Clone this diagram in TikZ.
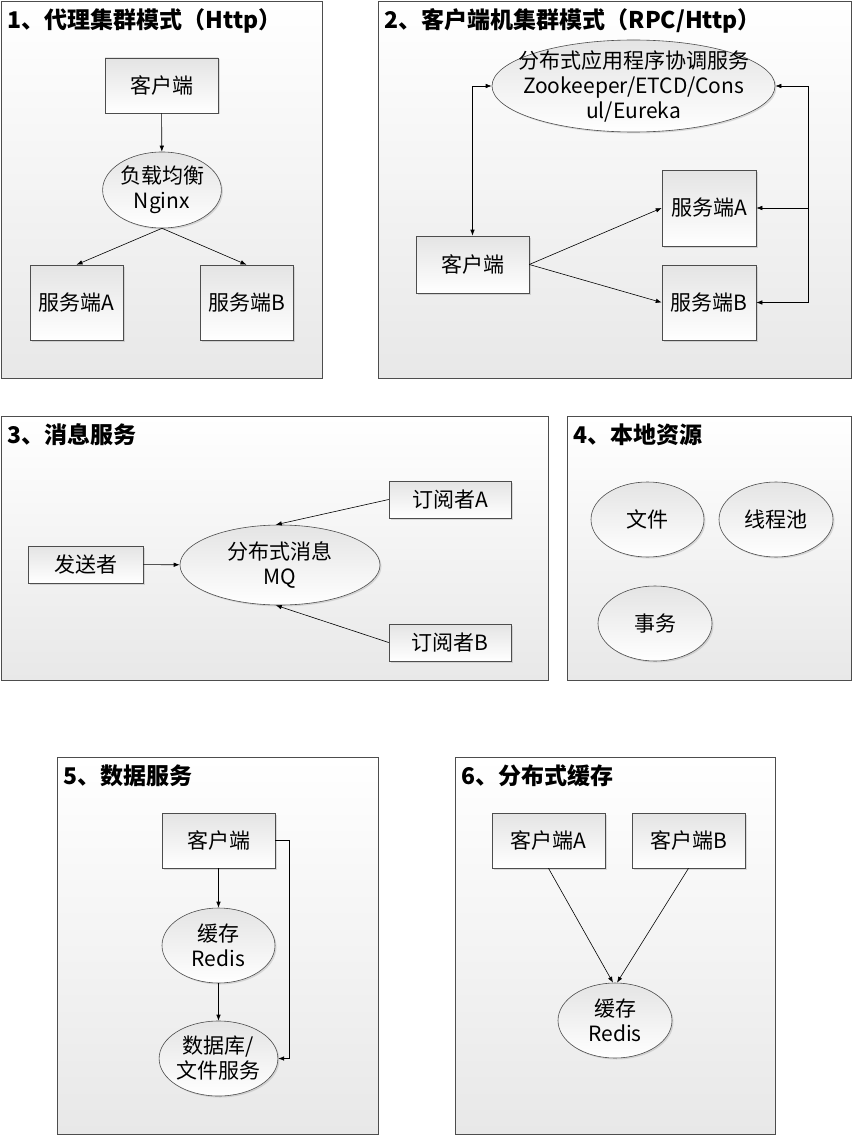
\documentclass[tikz,border=0pt]{standalone}
\usepackage{fontspec}
\setmainfont{Noto Sans CJK SC}
\usetikzlibrary{positioning, arrows.meta, shapes.geometric, shadows}
\definecolor{frame}{HTML}{4D4D4D}
\definecolor{panelshade}{HTML}{E8E8E8}
\definecolor{nodeshade}{HTML}{E4E4E4}

\begin{document}
\begin{tikzpicture}[
    x=1pt, y=-1pt,
    >={Latex[length=6pt,width=4.5pt]},
    font=\fontsize{21}{25}\selectfont,
    panel/.style={
        draw=frame, line width=0.8pt, rectangle, inner sep=0pt,
        top color=white, bottom color=panelshade,
    },
    title/.style={font=\fontsize{23}{27}\selectfont\bfseries, anchor=base west, inner sep=0pt},
    box/.style={
        draw=frame, line width=0.6pt, rectangle, inner sep=0pt, align=center,
        top color=nodeshade, bottom color=white,
        drop shadow={opacity=0.25, shadow xshift=1.5pt, shadow yshift=-1.5pt},
    },
    oval/.style={
        draw=frame, line width=0.6pt, ellipse, inner sep=0pt, align=center,
        top color=nodeshade, bottom color=white,
        drop shadow={opacity=0.25, shadow xshift=1.5pt, shadow yshift=-1.5pt},
    },
    arrow/.style={->, line width=0.6pt},
]
\useasboundingbox (0,0) rectangle (854,1137);

% ===== Panels =====
\node[panel, minimum width=321pt, minimum height=377pt] (p1) at (161.5,189.5) {};
\node[panel, minimum width=473pt, minimum height=377pt] (p2) at (614.5,189.5) {};
\node[panel, minimum width=547pt, minimum height=264pt] (p3) at (274.5,548)   {};
\node[panel, minimum width=284pt, minimum height=264pt] (p4) at (709,548)     {};
\node[panel, minimum width=321pt, minimum height=377pt] (p5) at (217.5,945.5) {};
\node[panel, minimum width=320pt, minimum height=377pt] (p6) at (615,945.5)   {};

\node[title] (t1) at ([shift={(7,28)}]p1.north west) {1、代理集群模式（Http）};
\node[title] (t2) at ([shift={(7,28)}]p2.north west) {2、客户端机集群模式（RPC/Http）};
\node[title] (t3) at ([shift={(7,28)}]p3.north west) {3、消息服务};
\node[title] (t4) at ([shift={(7,28)}]p4.north west) {4、本地资源};
\node[title] (t5) at ([shift={(7,28)}]p5.north west) {5、数据服务};
\node[title] (t6) at ([shift={(7,28)}]p6.north west) {6、分布式缓存};

% ===== 1: proxy cluster =====
\node[box, minimum width=113pt, minimum height=55pt] (cli1)  at (161.5,85.5)  {客户端};
\node[oval, minimum width=113pt, minimum height=76pt] (lb1)  at (162,190)     {负载均衡\\Nginx};
\node[box, minimum width=93pt, minimum height=75pt]  (srvA1) at (76.5,302.5)  {服务端A};
\node[box, minimum width=93pt, minimum height=75pt]  (srvB1) at (246.5,302.5) {服务端B};

\draw[arrow] (cli1) -- (lb1);
\draw[arrow] (lb1.south) -- (srvA1.north);
\draw[arrow] (lb1.south) -- (srvB1.north);

% ===== 2: client cluster =====
\node[oval, minimum width=283pt, minimum height=92pt, inner xsep=-30pt, inner ysep=-8pt] (reg2) at (633.5,86)
    {分布式应用程序协调服务\\Zookeeper/ETCD/Cons\\ul/Eureka};
\node[box, minimum width=113pt, minimum height=57pt] (cli2)  at (472.5,264.5) {客户端};
\node[box, minimum width=94pt, minimum height=76pt]  (srvA2) at (709,208)     {服务端A};
\node[box, minimum width=94pt, minimum height=75pt]  (srvB2) at (709,302.5)   {服务端B};
\coordinate (bus2) at (808,208);

\draw[arrow, <->] (reg2.west) -| (cli2.north);
\draw[arrow] (cli2.east) -- (srvA2.west);
\draw[arrow] (cli2.east) -- (srvB2.west);
\draw[arrow] (bus2 |- srvB2.east) -- (bus2 |- reg2.east) -- (reg2.east);
\draw[arrow] (bus2 |- srvA2.east) -- (srvA2.east);
\draw[arrow] (bus2 |- srvB2.east) -- (srvB2.east);

% ===== 3: message service =====
\node[box, minimum width=115pt, minimum height=37pt]  (send3) at (85.5,564.5) {发送者};
\node[oval, minimum width=200pt, minimum height=80pt] (mq3)   at (280,565)    {分布式消息\\MQ};
\node[box, minimum width=122pt, minimum height=37pt]  (subA3) at (450,499.5)  {订阅者A};
\node[box, minimum width=122pt, minimum height=37pt]  (subB3) at (450,642.5)  {订阅者B};

\draw[arrow] (send3) -- (mq3);
\draw[arrow] (subA3.west) -- (mq3.96);
\draw[arrow] (subB3.west) -- (mq3.264);

% ===== 4: local resources =====
\node[oval, minimum width=113pt, minimum height=75pt] (file4) at (647.5,519.5) {文件};
\node[oval, minimum width=114pt, minimum height=75pt] (pool4) at (776,519.5)   {线程池};
\node[oval, minimum width=114pt, minimum height=75pt] (tx4)   at (655,623.5)   {事务};

% ===== 5: data service =====
\node[box, minimum width=113pt, minimum height=55pt]  (cli5)   at (218.5,840.5)  {客户端};
\node[oval, minimum width=113pt, minimum height=75pt] (cache5) at (218.5,945.5)  {缓存\\Redis};
\node[oval, minimum width=113pt, minimum height=75pt] (db5)    at (218.5,1058.5) {数据库/\\文件服务};

\draw[arrow] (cli5) -- (cache5);
\draw[arrow] (cache5) -- (db5);
\draw[arrow] (cli5.east) -- ++(14,0) |- (db5.east);

% ===== 6: distributed cache =====
\node[box, minimum width=113pt, minimum height=55pt]  (cliA6)  at (548.5,840.5) {客户端A};
\node[box, minimum width=113pt, minimum height=55pt]  (cliB6)  at (688.5,840.5) {客户端B};
\node[oval, minimum width=114pt, minimum height=75pt] (cache6) at (615,1020.5)  {缓存\\Redis};

\draw[arrow] (cliA6.south) -- (cache6.93);
\draw[arrow] (cliB6.south) -- (cache6.87);

\end{tikzpicture}
\end{document}
